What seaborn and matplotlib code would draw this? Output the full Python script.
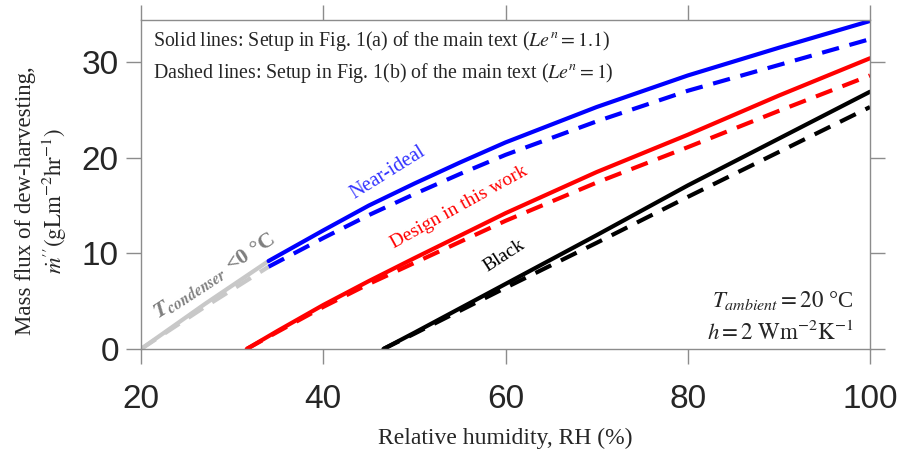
import numpy as np
import pandas as pd
import seaborn as sns
import matplotlib.pyplot as plt

# values (RH %, mass flux g m^-2 hr^-1)
rh_blue = [34, 40, 45, 50, 55, 60, 70, 80, 90, 100]
blue_solid = [9.2, 12.4, 15.0, 17.3, 19.5, 21.6, 25.3, 28.6, 31.5, 34.3]
blue_dashed = [8.6, 11.6, 14.0, 16.2, 18.3, 20.3, 23.8, 27.0, 29.7, 32.4]

rh_red = [31.6, 35, 40, 45, 50, 60, 70, 80, 90, 100]
red_solid = [0.0, 1.9, 4.6, 7.1, 9.5, 14.2, 18.5, 22.4, 26.5, 30.4]
red_dashed = [0.0, 1.8, 4.4, 6.8, 9.0, 13.4, 17.4, 21.1, 24.9, 28.6]

rh_black = [46.6, 50, 60, 70, 80, 90, 100]
black_solid = [0.0, 1.7, 6.8, 11.9, 17.1, 22.0, 26.9]
black_dashed = [0.0, 1.6, 6.4, 11.1, 15.9, 20.6, 25.3]

rh_gray = [20, 27, 34]
gray_solid = [0.0, 4.7, 9.2]
gray_dashed = [0.0, 4.4, 8.6]

sns.set_theme(style="ticks")
plt.rcParams['font.family'] = ['Liberation Serif', 'DejaVu Serif']
plt.rcParams['mathtext.fontset'] = 'stix'

fig = plt.figure(figsize=(9.04, 4.59), dpi=100)
ax = fig.add_axes([0.156, 0.2397, 0.8064, 0.7167])

lw = 3
dash = (4.2, 2.6)
series = [
    (rh_gray, gray_solid, gray_dashed, '#c8c8c8'),
    (rh_blue, blue_solid, blue_dashed, '#0000ff'),
    (rh_red, red_solid, red_dashed, '#ff0000'),
    (rh_black, black_solid, black_dashed, '#000000'),
]
for x, ys, yd, c in series:
    df = pd.DataFrame({'RH': x, 'solid': ys, 'dashed': yd})
    sns.lineplot(data=df, x='RH', y='dashed', color=c, lw=lw, ax=ax,
                 linestyle=(0, dash))
    sns.lineplot(data=df, x='RH', y='solid', color=c, lw=lw, ax=ax)

ax.set_xlim(20, 100)
ax.set_ylim(0, 34.4)
ax.set_xticks([20, 40, 60, 80, 100])
ax.set_yticks([0, 10, 20, 30])
ax.tick_params(direction='out', length=11, width=1, color='#8c8c8c',
               top=True, right=True, labeltop=False, labelright=False,
               labelsize=24, labelcolor='#262626')
ax.tick_params(axis='x', pad=14)
ax.tick_params(axis='y', pad=5)
for lab in ax.get_xticklabels() + ax.get_yticklabels():
    lab.set_fontfamily('Liberation Sans')
for s in ax.spines.values():
    s.set_visible(True)
    s.set_color('#8c8c8c')
    s.set_linewidth(1)

ax.set_xlabel('Relative humidity, RH (%)', fontsize=17)
ax.xaxis.set_label_coords(0.5, -0.24)
ax.set_ylabel('Mass flux of dew-harvesting,\n' + r"$\dot{m}''(\mathrm{gLm^{-2}hr^{-1}})$",
              fontsize=16.5, linespacing=1.15)
ax.yaxis.set_label_coords(-0.1, 0.45)

ax.text(0.016, 0.937, r"Solid lines: Setup in Fig. 1(a) of the main text ($Le^{n} = 1.1$)",
        transform=ax.transAxes, fontsize=14.3, va='center', ha='left')
ax.text(0.016, 0.84, r"Dashed lines: Setup in Fig. 1(b) of the main text ($Le^{n} = 1$)",
        transform=ax.transAxes, fontsize=14.3, va='center', ha='left')

ax.text(47.1, 18.4, 'Near-ideal', color='#3333ff', fontsize=14.5, rotation=32,
        ha='center', va='center')
ax.text(54.9, 14.8, 'Design in this work', color='#ff0000', fontsize=14, rotation=29,
        ha='center', va='center')
ax.text(59.9, 9.7, 'Black', color='#000000', fontsize=14, rotation=33,
        ha='center', va='center')
ax.text(28.0, 7.7, r"$\boldsymbol{T}_{\boldsymbol{condenser}}$ <0 °C", color='#7f7f7f',
        fontsize=16, fontweight='bold', rotation=33, ha='center', va='center')

ax.text(0.977, 0.146, r"$T_{ambient}=20$ °C", transform=ax.transAxes,
        fontsize=16.5, ha='right', va='center')
ax.text(0.977, 0.052, r"$h=2\ \mathrm{Wm^{-2}K^{-1}}$", transform=ax.transAxes,
        fontsize=16.5, ha='right', va='center')

fig.savefig('out.png', dpi=100)
